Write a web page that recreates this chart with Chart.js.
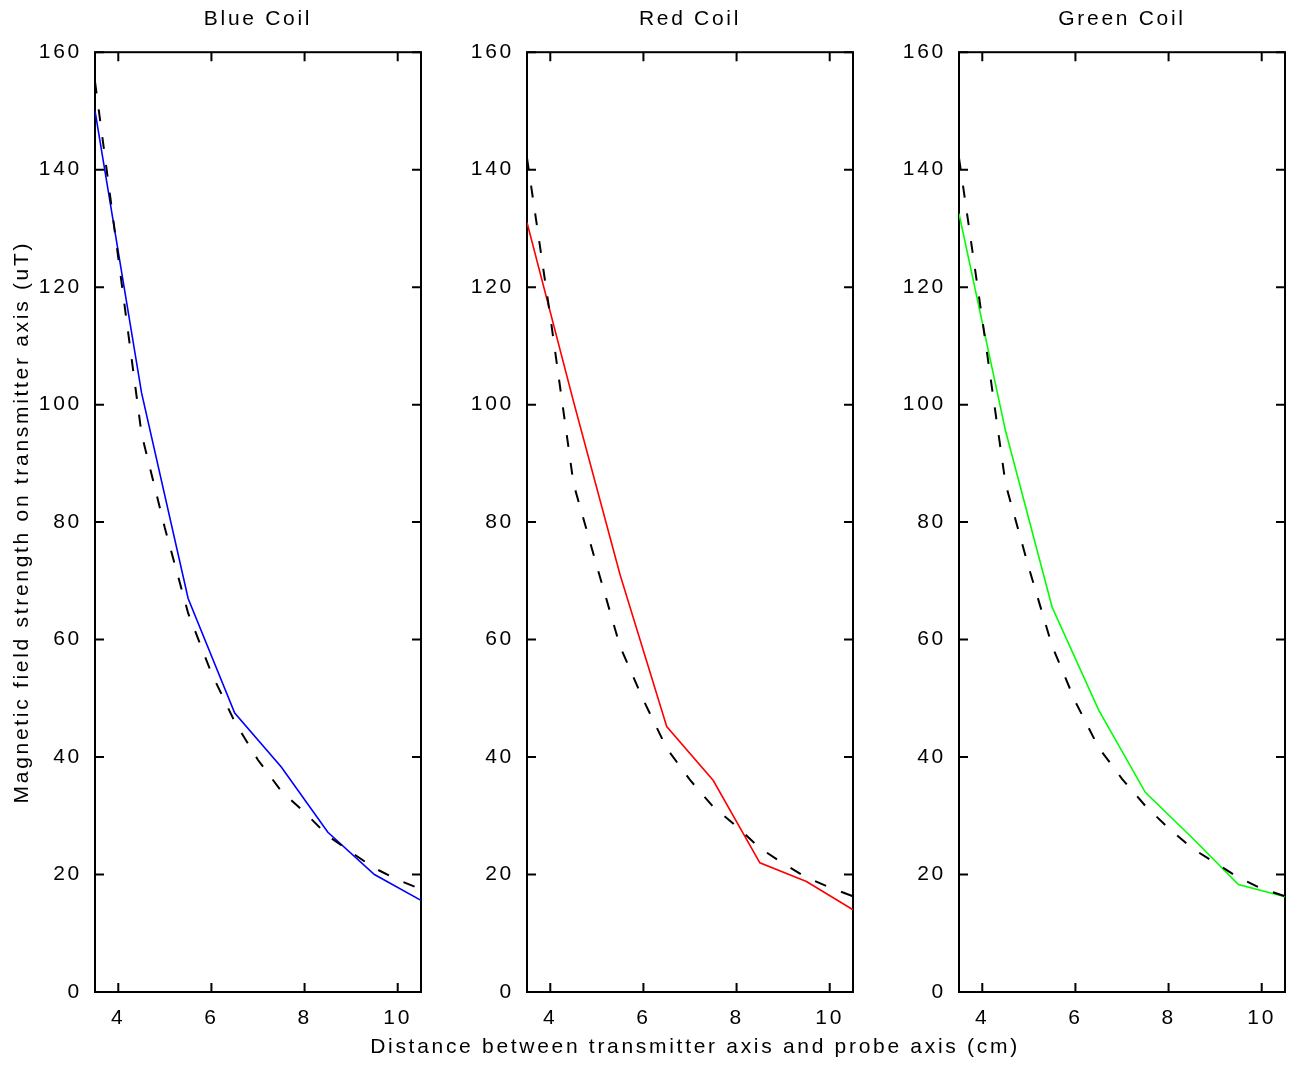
<!DOCTYPE html>
<html>
<head>
<meta charset="utf-8">
<script src="https://cdn.jsdelivr.net/npm/chart.js@4"></script>
<style>
  body { margin: 0; background: #fff; }
  #wrap { position: relative; width: 1295px; height: 1065px; }
  canvas { position: absolute; top: 0; }
</style>
</head>
<body>
<div id="wrap">
  <canvas id="blue-coil" width="430" height="1065" style="left:0px"></canvas>
  <canvas id="green-coil" width="406" height="1065" style="left:889px"></canvas>
  <canvas id="red-coil" width="670" height="1065" style="left:360px"></canvas>
</div>
<script>
// distances (cm)
const xMeasured = [3.5, 4.5, 5.5, 6.5, 7.5, 8.5, 9.5, 10.5];
const xTheory = [3.5, 4, 4.5, 5, 5.5, 6, 6.5, 7, 7.5, 8, 8.5, 9, 9.5, 10, 10.5];

// measured field strength (uT)
const blueMeasured = [150, 102, 67, 47.5, 38.3, 27.2, 20, 15.6];
const redMeasured = [131, 100.5, 71, 45.2, 36, 22, 18.8, 14];
const greenMeasured = [132.5, 95.5, 65.5, 48, 34, 26.3, 18.3, 16.2];

// theoretical field strength (uT), dashed
const blueTheory = [155, 125, 95, 79, 64.5, 54.3, 46, 39.5, 34.2, 30.6, 26.6, 23.8, 21.1, 19.1, 17.5];
const redTheory = [142, 115, 86.5, 72.5, 58.8, 49.7, 41.5, 36.1, 31.5, 28.2, 24.5, 21.9, 19.5, 17.8, 16.3];
const greenTheory = [142, 114.5, 86.5, 72.2, 58.9, 49.4, 41.6, 36.3, 31.7, 27.9, 24.5, 22, 19.5, 17.6, 16.3];

const xTicks = [4, 6, 8, 10];
const yTicks = [0, 20, 40, 60, 80, 100, 120, 140, 160];

const xLabel = 'Distance between transmitter axis and probe axis (cm)';
const yLabel = 'Magnetic field strength on transmitter axis (uT)';

const FONT = { family: '"Liberation Sans", Arial, sans-serif', size: 21 };
const SPACING = '2.7px';
const TICK = 9;

function pts(xs, ys) {
    return xs.map((x, i) => ({ x: x, y: ys[i] }));
}

// MATLAB-like wide text
const spacing = {
    id: 'spacing',
    beforeUpdate(chart) { chart.ctx.letterSpacing = SPACING; },
    beforeDraw(chart) { chart.ctx.letterSpacing = SPACING; }
};

// box round the plot with inward ticks on all sides
const boxTicks = {
    id: 'boxTicks',
    beforeDatasetsDraw(chart) {
        const { ctx, chartArea: a, scales: { x, y } } = chart;
        ctx.save();
        ctx.strokeStyle = '#000';
        ctx.lineWidth = 2;
        ctx.strokeRect(a.left, a.top, a.right - a.left, a.bottom - a.top);
        ctx.beginPath();
        x.ticks.forEach(t => {
            const px = x.getPixelForValue(t.value);
            ctx.moveTo(px, a.bottom); ctx.lineTo(px, a.bottom - TICK);
            ctx.moveTo(px, a.top); ctx.lineTo(px, a.top + TICK);
        });
        y.ticks.forEach(t => {
            const py = y.getPixelForValue(t.value);
            ctx.moveTo(a.left, py); ctx.lineTo(a.left + TICK, py);
            ctx.moveTo(a.right, py); ctx.lineTo(a.right - TICK, py);
        });
        ctx.stroke();
        ctx.restore();
    }
};

// shared x label under the middle panel (not squeezed to the axis width)
const sharedXLabel = {
    id: 'sharedXLabel',
    afterDraw(chart) {
        const { ctx, chartArea: a } = chart;
        ctx.save();
        ctx.letterSpacing = SPACING;
        ctx.fillStyle = '#000';
        ctx.font = `${FONT.size}px ${FONT.family}`;
        ctx.textAlign = 'center';
        ctx.textBaseline = 'middle';
        ctx.fillText(xLabel, (a.left + a.right) / 2 + 5, a.bottom + 55);
        ctx.restore();
    }
};

function makeCoilChart(id, title, color, measured, theory, opts) {
    const ctx = document.getElementById(id);
    new Chart(ctx, {
        type: 'line',
        data: {
            datasets: [{
                label: 'Theory',
                data: pts(xTheory, theory),
                borderColor: '#000',
                borderWidth: 2,
                borderDash: [12, 16],
                pointRadius: 0,
                tension: 0
            }, {
                label: title,
                data: pts(xMeasured, measured),
                borderColor: color,
                borderWidth: 1.6,
                pointRadius: 0,
                tension: 0
            }]
        },
        options: {
            responsive: false,
            animation: false,
            layout: { padding: { left: opts.left || 0, right: opts.right } },
            plugins: {
                legend: { display: false },
                tooltip: { enabled: false },
                title: {
                    display: true,
                    fullSize: false,
                    text: title,
                    color: '#000',
                    font: { ...FONT, weight: 'normal' },
                    padding: { top: 7, bottom: 20 }
                }
            },
            scales: {
                x: {
                    type: 'linear',
                    min: 3.5,
                    max: 10.5,
                    afterBuildTicks: s => { s.ticks = xTicks.map(v => ({ value: v })); },
                    afterFit: s => { s.height = 73; },
                    grid: { display: false },
                    border: { display: false },
                    ticks: { color: '#000', font: FONT, padding: 6, maxRotation: 0 }
                },
                y: {
                    min: 0,
                    max: 160,
                    afterBuildTicks: s => { s.ticks = yTicks.map(v => ({ value: v })); },
                    afterFit: s => { s.width = opts.yWidth; },
                    grid: { display: false },
                    border: { display: false },
                    ticks: { color: '#000', font: FONT, padding: 5 },
                    title: {
                        display: !!opts.yTitle,
                        text: opts.yTitle || '',
                        color: '#000',
                        font: FONT,
                        padding: { top: 10, bottom: 10 }
                    }
                }
            }
        },
        plugins: opts.xTitle ? [spacing, boxTicks, sharedXLabel] : [spacing, boxTicks]
    });
}

makeCoilChart('blue-coil', 'Blue Coil', '#0000ff', blueMeasured, blueTheory,
    { yWidth: 95, right: 9, yTitle: yLabel });
makeCoilChart('green-coil', 'Green Coil', '#00ff00', greenMeasured, greenTheory,
    { yWidth: 70, right: 10 });
makeCoilChart('red-coil', 'Red Coil', '#ff0000', redMeasured, redTheory,
    { yWidth: 70, left: 97, right: 177, xTitle: true });
</script>
</body>
</html>
